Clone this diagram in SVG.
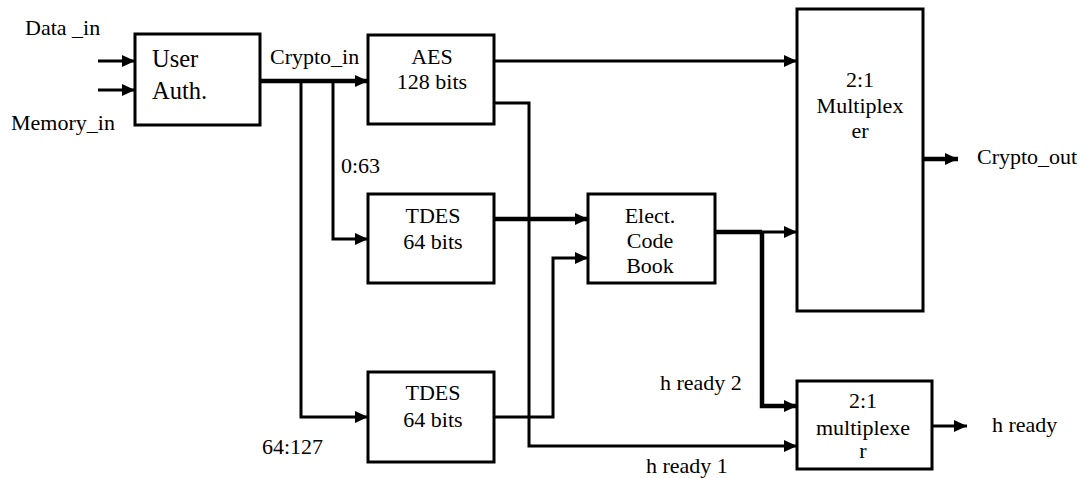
<svg xmlns="http://www.w3.org/2000/svg" width="1081" height="478" viewBox="0 0 1081 478">
<defs>
<marker id="ah" markerWidth="14" markerHeight="14" refX="13" refY="7" orient="auto" markerUnits="userSpaceOnUse">
<path d="M0,1 L13,7 L0,13 Z" fill="#000"/>
</marker>
<style>
rect{fill:#fff;stroke:#000;stroke-width:3}
text{font-family:"Liberation Serif","Times New Roman",serif;font-size:22px;fill:#000}
.c{text-anchor:middle}
.w{fill:none;stroke:#000;stroke-width:3}
.t{fill:none;stroke:#000;stroke-width:4.5}
</style>
</defs>
<rect x="0" y="0" width="1081" height="478" style="fill:#fff;stroke:none"/>
<g id="connectors">
<path class="w" d="M98,61 H135" marker-end="url(#ah)"/>
<path class="w" d="M98,90 H135" marker-end="url(#ah)"/>
<path class="t" d="M260,81 H368" marker-end="url(#ah)"/>
<path class="w" d="M333,81 V239 H368" marker-end="url(#ah)"/>
<path class="w" d="M301,81 V417 H368" marker-end="url(#ah)"/>
<path class="w" d="M494,61 H797" marker-end="url(#ah)"/>
<path class="w" d="M494,103 H529 V446 H797" marker-end="url(#ah)"/>
<path class="t" d="M494,219 H588" marker-end="url(#ah)"/>
<path class="w" d="M494,417 H553 V258 H588" marker-end="url(#ah)"/>
<path class="t" d="M715,232 H762"/>
<path class="w" d="M762,232 H797" marker-end="url(#ah)"/>
<path class="t" d="M762,232 V406 H797" marker-end="url(#ah)"/>
<path class="t" d="M923,159 H958" marker-end="url(#ah)"/>
<path class="w" d="M932,426 H967" marker-end="url(#ah)"/>
</g>
<g id="labels" font-family="Liberation Serif, Times New Roman, serif">
<text x="25" y="35">Data _in</text>
<text x="11" y="130">Memory_in</text>
<text x="270" y="64">Crypto_in</text>
<text x="341" y="173">0:63</text>
<text x="262" y="454">64:127</text>
<text x="660" y="390">h ready 2</text>
<text x="646" y="473">h ready 1</text>
<text x="977" y="164">Crypto_out</text>
<text x="992" y="432">h ready</text>
</g>
<g id="user-auth">
<rect x="135" y="34" width="125" height="91"/>
<text x="152" y="67" style="font-size:24.5px">User</text>
<text x="152" y="99" style="font-size:24.5px">Auth.</text>
</g>
<g id="aes">
<rect x="368" y="35" width="126" height="89"/>
<text class="c" x="432" y="64">AES</text>
<text class="c" x="432" y="89">128 bits</text>
</g>
<g id="tdes1">
<rect x="368" y="194" width="126" height="89"/>
<text class="c" x="433" y="223">TDES</text>
<text class="c" x="433" y="249">64 bits</text>
</g>
<g id="tdes2">
<rect x="368" y="372" width="126" height="90"/>
<text class="c" x="433" y="400">TDES</text>
<text class="c" x="433" y="427">64 bits</text>
</g>
<g id="ecb">
<rect x="588" y="194" width="127" height="89"/>
<text class="c" x="650" y="223">Elect.</text>
<text class="c" x="650" y="248">Code</text>
<text class="c" x="650" y="273">Book</text>
</g>
<g id="mux1">
<rect x="797" y="9" width="126" height="302"/>
<text class="c" x="860" y="87">2:1</text>
<text class="c" x="860" y="113">Multiplex</text>
<text class="c" x="860" y="138">er</text>
</g>
<g id="mux2">
<rect x="797" y="381" width="135" height="88"/>
<text class="c" x="863" y="408">2:1</text>
<text class="c" x="863" y="435">multiplexe</text>
<text class="c" x="863" y="458">r</text>
</g>
</svg>
